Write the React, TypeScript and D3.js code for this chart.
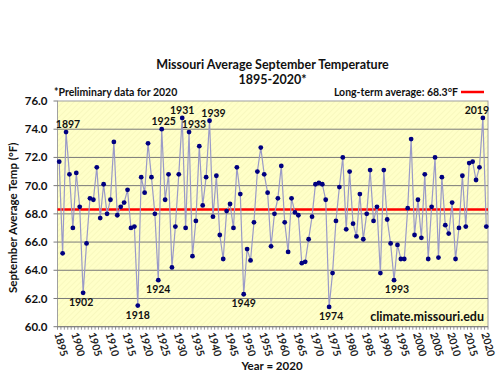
import React from 'react'
import * as d3 from 'd3'

// September average temperature (°F), 1895-2020
const firstYear = 1895
const temps = [
  71.7, 65.2, 73.8, 70.8, 67.0, 70.9, 68.5, 62.4, 65.9, 69.1,
  69.0, 71.3, 67.7, 70.1, 68.0, 69.0, 73.1, 67.9, 68.5, 68.8,
  69.7, 67.0, 67.1, 61.5, 70.6, 69.5, 73.0, 70.6, 68.0, 63.3,
  74.0, 69.0, 70.8, 64.2, 67.1, 70.8, 74.8, 67.0, 73.8, 65.0,
  67.5, 72.8, 68.6, 70.6, 74.6, 67.8, 70.7, 66.5, 64.8, 68.2,
  68.7, 67.0, 71.3, 69.4, 62.3, 65.5, 64.7, 67.4, 71.0, 72.7,
  70.8, 69.5, 65.7, 68.0, 69.1, 71.4, 67.4, 65.3, 69.1, 68.1,
  67.9, 64.5, 64.6, 66.2, 67.8, 70.1, 70.2, 70.1, 69.0, 61.4,
  63.8, 67.5, 69.9, 72.0, 66.9, 71.0, 67.3, 66.4, 69.4, 66.2,
  68.0, 71.1, 67.5, 68.5, 63.8, 71.1, 67.6, 65.9, 63.3, 65.8,
  64.8, 64.8, 68.4, 73.3, 66.5, 69.0, 66.3, 70.8, 64.8, 68.5,
  72.0, 64.9, 70.6, 67.2, 66.6, 68.8, 64.8, 67.0, 70.7, 67.1,
  71.6, 71.7, 70.4, 71.3, 74.8, 67.1,
]
const years = temps.map((_, i) => firstYear + i)
const longTermAverage = 68.3

const yTicks = [60, 62, 64, 66, 68, 70, 72, 74, 76]
const xTickYears = d3.range(1895, 2021, 5)

// labelled extremes: above or below the point
const highYears = [1897, 1925, 1931, 1933, 1939, 2019]
const lowYears = [1902, 1918, 1924, 1949, 1974, 1993]

const title = 'Missouri Average September Temperature'
const subtitle = '1895-2020*'
const note = '*Preliminary data for 2020'
const avgLabel = 'Long-term average: 68.3°F'
const yTitle = 'September Average Temp (°F)'
const xTitle = 'Year = 2020'
const source = 'climate.missouri.edu'

const W = 500
const H = 373
const plot = { left: 57.5, right: 488, top: 101, bottom: 326.7 }
const font = 'Lato, "Open Sans", sans-serif'
const labelNudge: Record<number, number> = { 1897: 2, 1902: -2, 1925: 2, 1931: 0, 1933: 5, 1939: 4, 2019: -6, 1993: 3, 1974: 2 }

export default function App() {
  const x = d3.scaleLinear().domain([1894.5, 2020.5]).range([plot.left, plot.right])
  const y = d3.scaleLinear().domain([60, 76]).range([plot.bottom, plot.top])

  const line = d3.line<number>()
    .x((_, i) => x(years[i]))
    .y(d => y(d))

  const yearIndex = (yr: number) => yr - firstYear

  return (
    <div style={{ position: 'absolute', left: 0, top: 0 }}>
      <svg width={W} height={H} style={{ display: 'block', fontFamily: font }}>
        <defs>
          <pattern id="hatch" width={4} height={4} patternUnits="userSpaceOnUse" patternTransform="rotate(45)">
            <rect width={4} height={4} fill="#ffffc8" />
            <line x1={0} y1={0} x2={0} y2={4} stroke="#f2f2b4" strokeWidth={1} />
          </pattern>
        </defs>
        <rect width={W} height={H} fill="#ffffff" />

        {/* plot area */}
        <rect x={plot.left} y={plot.top} width={plot.right - plot.left} height={plot.bottom - plot.top}
          fill="url(#hatch)" stroke="#a0a0a0" strokeWidth={1} />

        {yTicks.map(t => (
          <g key={t}>
            {t > 60 && t < 76 && (
              <line x1={plot.left} x2={plot.right} y1={y(t)} y2={y(t)} stroke="#7a7a7a" strokeWidth={1} />
            )}
            <line x1={plot.left - 4} x2={plot.left} y1={y(t)} y2={y(t)} stroke="#7a7a7a" />
            <text x={plot.left - 10} y={y(t)} dy="0.35em" textAnchor="end" fontSize={11.5} fontWeight="bold" fill="#111">
              {t.toFixed(1)}
            </text>
          </g>
        ))}

        {/* x axis */}
        <line x1={plot.left} x2={plot.right} y1={plot.bottom} y2={plot.bottom} stroke="#7a7a7a" />
        {d3.range(1894.5, 2021, 1).map(b => (
          <line key={b} x1={x(b)} x2={x(b)} y1={plot.bottom} y2={plot.bottom + 3} stroke="#7a7a7a" strokeWidth={0.8} />
        ))}
        {xTickYears.map(yr => (
          <text key={yr} transform={`translate(${x(yr) - 5},${plot.bottom + 7}) rotate(74)`}
            fontSize={10.5} fontWeight="bold" fill="#222">
            {yr}
          </text>
        ))}

        {/* long-term average */}
        <line x1={plot.left} x2={plot.right} y1={y(longTermAverage)} y2={y(longTermAverage)} stroke="#ff0000" strokeWidth={2.5} />

        {/* series */}
        <path d={line(temps) ?? ''} fill="none" stroke="#9a9ac8" strokeWidth={1.2} />
        {temps.map((t, i) => (
          <circle key={i} cx={x(years[i])} cy={y(t)} r={2.4} fill="#000080" />
        ))}

        {highYears.map(yr => (
          <text key={yr} x={x(yr) + (labelNudge[yr] ?? 0)} y={y(temps[yearIndex(yr)]) - 4}
            textAnchor="middle" fontSize={10.5} fontWeight="bold" fill="#111">
            {yr}
          </text>
        ))}
        {lowYears.map(yr => (
          <text key={yr} x={x(yr) + (labelNudge[yr] ?? 0)} y={y(temps[yearIndex(yr)]) + 13}
            textAnchor="middle" fontSize={10.5} fontWeight="bold" fill="#111">
            {yr}
          </text>
        ))}

        <text x={484} y={321} textAnchor="end" fontSize={12.5} fontWeight="bold" fill="#111">{source}</text>

        {/* titles */}
        <text x={272.5} y={69} textAnchor="middle" fontSize={12.5} fontWeight="bold" fill="#111">{title}</text>
        <text x={272.5} y={84} textAnchor="middle" fontSize={12.5} fontWeight="bold" fill="#111">{subtitle}</text>
        <text x={54} y={96} fontSize={10.5} fontWeight="bold" fill="#111">{note}</text>
        <text x={458} y={96} textAnchor="end" fontSize={10.5} fontWeight="bold" fill="#111">{avgLabel}</text>
        <line x1={461} x2={484} y1={92} y2={92} stroke="#ff0000" strokeWidth={2.5} />

        <text transform={`translate(17,${(plot.top + plot.bottom) / 2 + 4}) rotate(-90)`} textAnchor="middle"
          fontSize={11.5} fontWeight="bold" fill="#111">{yTitle}</text>
        <text x={272} y={370} textAnchor="middle" fontSize={11.5} fontWeight="bold" fill="#111">{xTitle}</text>
      </svg>
    </div>
  )
}
